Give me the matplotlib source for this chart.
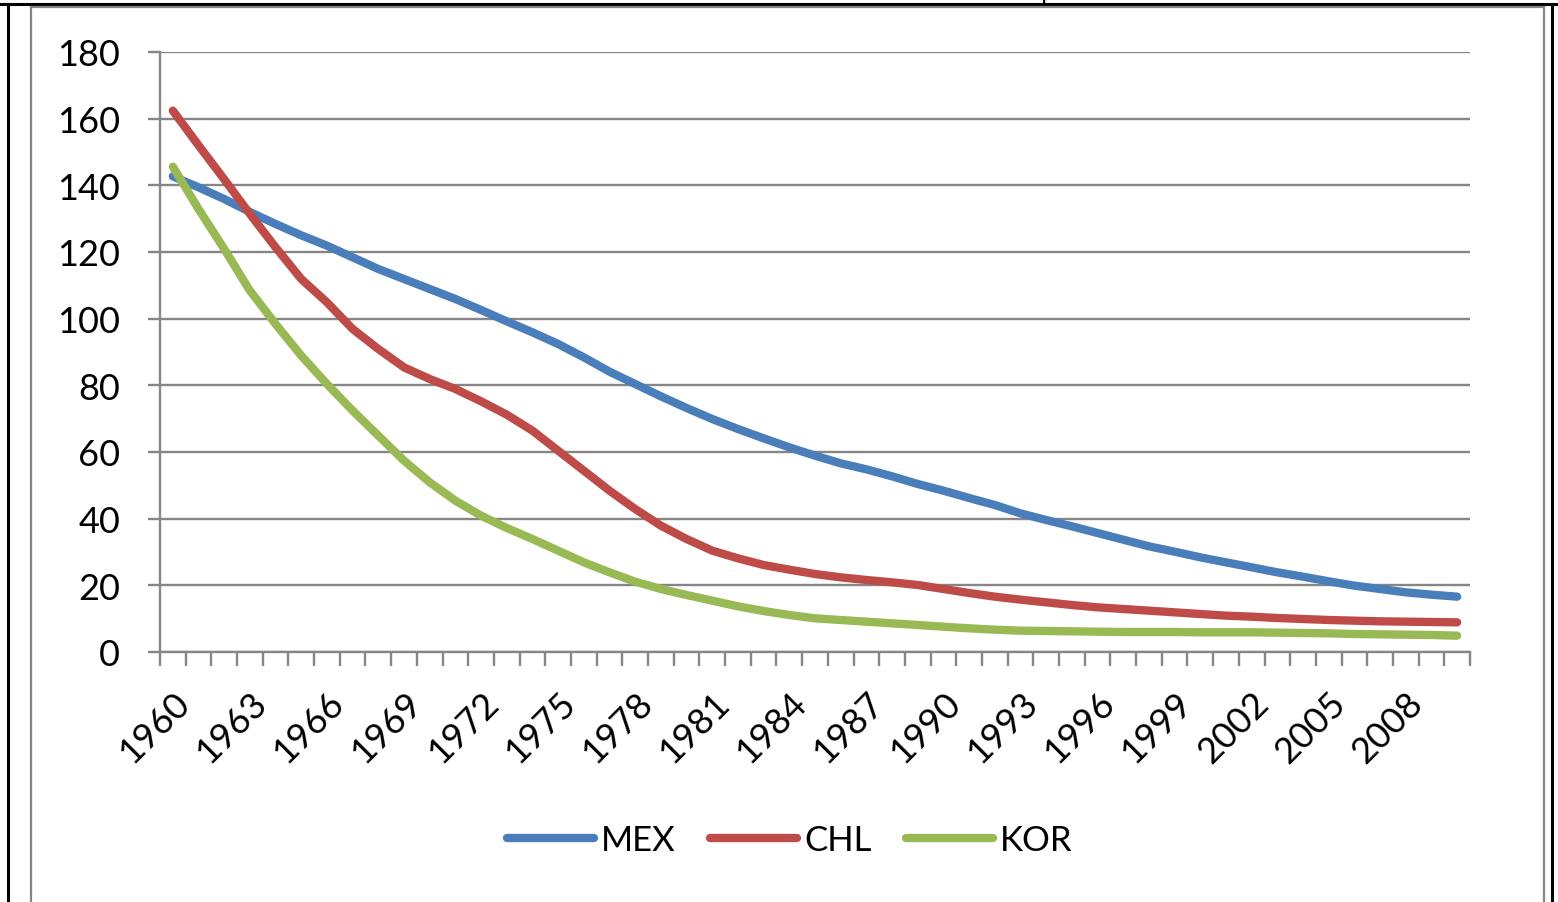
import matplotlib.pyplot as plt
from matplotlib.lines import Line2D

years = list(range(1960, 2011))

mex = [142.7, 139.4, 135.9, 132.0, 128.4, 125.0, 121.9, 118.4, 114.9, 111.9,
       108.9, 105.9, 102.6, 99.2, 95.9, 92.4, 88.4, 84.1, 80.4, 76.7,
       73.2, 69.9, 66.9, 64.1, 61.4, 58.9, 56.6, 54.8, 52.7, 50.4,
       48.4, 46.2, 44.1, 41.6, 39.6, 37.7, 35.7, 33.7, 31.7, 30.1,
       28.4, 26.9, 25.4, 23.9, 22.6, 21.2, 19.9, 18.9, 17.9, 17.2, 16.6]

chl = [162.4, 152.0, 141.8, 131.4, 121.4, 111.9, 104.9, 96.9, 90.9, 85.4,
       81.9, 78.9, 75.2, 71.2, 66.4, 60.4, 54.4, 48.4, 42.9, 37.9,
       33.9, 30.4, 28.1, 26.1, 24.7, 23.4, 22.4, 21.6, 20.9, 20.1,
       18.9, 17.7, 16.6, 15.7, 14.9, 14.1, 13.4, 12.9, 12.4, 11.9,
       11.4, 10.9, 10.6, 10.2, 9.9, 9.6, 9.4, 9.2, 9.1, 9.0, 8.9]

kor = [145.6, 132.9, 120.9, 108.4, 98.4, 88.9, 80.4, 72.4, 64.9, 57.4,
       50.9, 45.4, 40.9, 37.2, 33.9, 30.4, 26.9, 23.9, 21.1, 18.9,
       17.1, 15.4, 13.7, 12.3, 11.1, 10.1, 9.6, 9.1, 8.6, 8.1,
       7.6, 7.1, 6.7, 6.4, 6.3, 6.2, 6.1, 6.0, 6.0, 6.0,
       5.9, 5.9, 5.9, 5.8, 5.7, 5.6, 5.4, 5.3, 5.2, 5.1, 4.9]

series = {'MEX': (mex, '#4A7EBB'), 'CHL': (chl, '#BE4B48'), 'KOR': (kor, '#98B954')}

W, H = 1558, 903
plt.rcParams['font.family'] = ['Lato', 'DejaVu Sans']
grey = '#868686'

fig = plt.figure(figsize=(W / 100, H / 100), dpi=100)
ax = fig.add_axes([160 / W, 1 - 653 / H, 1310 / W, 600 / H])

x = list(range(len(years)))
for name, (vals, col) in series.items():
    ax.plot(x, vals, color=col, lw=6, solid_capstyle='round', label=name)

ax.set_xlim(-0.5, len(years) - 0.5)
ax.set_ylim(0, 180)
ax.set_yticks(range(0, 181, 20))
ax.yaxis.grid(True, color=grey, lw=1.7)
ax.set_axisbelow(True)
for s in ['top', 'right']:
    ax.spines[s].set_visible(False)
for s in ['left', 'bottom']:
    ax.spines[s].set_color(grey)
    ax.spines[s].set_linewidth(1.7)

ax.tick_params(axis='y', length=8.6, width=1.7, color=grey, pad=20, labelsize=26)
ax.set_xticks(x[::3])
ax.set_xticklabels([str(y) for y in years[::3]], rotation=45, ha='right',
                   va='top', rotation_mode='anchor')
ax.set_xticks([i - 0.5 for i in range(len(years) + 1)], minor=True)
ax.tick_params(axis='x', which='major', length=0, pad=24, labelsize=26)
ax.tick_params(axis='x', which='minor', length=10, width=1.7, color=grey)

fig.legend(loc='center', bbox_to_anchor=(0.507, 0.0687), ncol=3, frameon=False,
           handlelength=2.5, handletextpad=0.2, columnspacing=1.0, fontsize=25)

# page borders around the chart
def px(xp, yp):
    return xp / W, 1 - yp / H

for (x0, y0), (x1, y1), c, lw in [((0, 5), (W, 5), 'black', 2.2),
                                   ((7.5, 5), (7.5, H), 'black', 2.2),
                                   ((1552, 5), (1552, H), 'black', 2.2),
                                   ((31, 8), (1544, 8), grey, 1.6),
                                   ((31, 8), (31, H), grey, 1.6),
                                   ((1544, 8), (1544, H), grey, 1.6)]:
    a, b = px(x0, y0)
    c2, d = px(x1, y1)
    fig.add_artist(Line2D([a, c2], [b, d], transform=fig.transFigure, color=c, lw=lw))

fig.text(1048 / W, 1 + 1 / H, 'p', family='Liberation Serif', fontsize=20,
         ha='center', va='baseline')

fig.savefig('out.png', dpi=100)
